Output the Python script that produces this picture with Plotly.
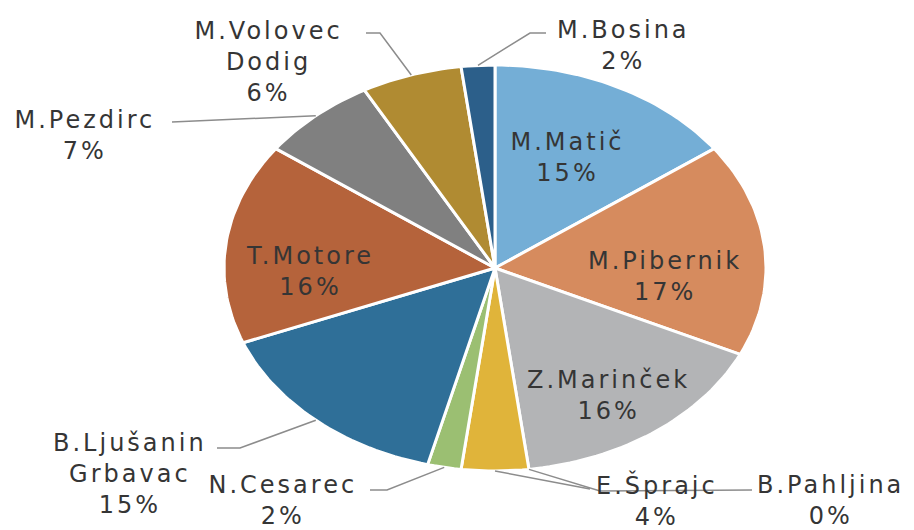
import numpy as np
import plotly.graph_objects as go

# ---- data ----
names = ["M.Matič", "M.Pibernik", "Z.Marinček", "B.Pahljina", "E.Šprajc",
         "N.Cesarec", "B.Ljušanin Grbavac", "T.Motore", "M.Pezdirc",
         "M.Volovec Dodig", "M.Bosina"]
values = [15, 17, 16, 0, 4, 2, 15, 16, 7, 6, 2]

# ---- styles / layout (not data) ----
colors = ["#74aed6", "#d68b5e", "#b3b4b6", "#c0c0c0", "#e0b43a",
          "#9bbf72", "#2f6f98", "#b5633b", "#808080", "#b08b32", "#2c5f8a"]
# pie geometry in pixel-unit axes (image is stretched horizontally)
CX, CY, RX, RY = 495, 268, 271, 203
# label block centres
label_pos = {
    "M.Matič": (567, 157), "M.Pibernik": (665, 276), "Z.Marinček": (608, 395),
    "B.Pahljina": (830, 500), "E.Šprajc": (657, 500), "N.Cesarec": (283, 500),
    "B.Ljušanin Grbavac": (130, 474), "T.Motore": (310, 271),
    "M.Pezdirc": (85, 135), "M.Volovec Dodig": (268, 62), "M.Bosina": (623, 45),
}
# leader line label-side points (elbow, end) for outside labels
leader = {
    "M.Volovec Dodig": [(380, 33), (366, 33)],
    "M.Bosina": [(530, 33), (546, 33)],
    "M.Pezdirc": [(172, 122)],
    "B.Ljušanin Grbavac": [(240, 448), (217, 448)],
    "N.Cesarec": [(387, 490), (370, 490)],
    "E.Šprajc": [(590, 489)],
    "B.Pahljina": [(600, 491), (752, 490)],
}
TEXT = "#353535"
FONT = "DejaVu Sans"
FS = 24
OFF = 8  # page body margin offset

total = float(sum(values))
fig = go.Figure()

def pt(angle_deg, r=1.0):
    a = np.radians(angle_deg)
    return CX + RX * r * np.cos(a), CY - RY * r * np.sin(a)

start = 90.0
mids = {}
for name, v, c in zip(names, values, colors):
    span = 360.0 * v / total
    end = start - span
    mids[name] = (start + end) / 2
    if v > 0:
        n = max(3, int(span / 1.5) + 2)
        ang = np.linspace(start, end, n)
        xs, ys = pt(ang)
        x = np.concatenate([[CX], xs, [CX]])
        y = np.concatenate([[CY], ys, [CY]])
        fig.add_trace(go.Scatter(x=x, y=y, fill="toself", fillcolor=c,
                                 mode="lines", line=dict(color="white", width=3),
                                 hoverinfo="text", text=name, showlegend=False))
    start = end

# leader lines
for name, pts in leader.items():
    ex, ey = pt(mids[name])
    xs = [ex] + [p[0] for p in pts]
    ys = [ey] + [p[1] for p in pts]
    fig.add_trace(go.Scatter(x=xs, y=ys, mode="lines",
                             line=dict(color="#8c8c8c", width=1.5),
                             hoverinfo="skip", showlegend=False))

# labels
for name, v in zip(names, values):
    pct = round(v / total * 100)
    label = name.replace(" ", "<br>") + "<br>" + f"{pct}%"
    x, y = label_pos[name]
    fig.add_annotation(x=x, y=y, xref="x", yref="y", text=label,
                       showarrow=False, align="center",
                       font=dict(family=FONT, size=FS, color=TEXT))

fig.update_xaxes(range=[OFF, 914 + OFF], visible=False, fixedrange=True)
fig.update_yaxes(range=[530 + OFF, OFF], visible=False, fixedrange=True)
fig.update_layout(width=914, height=530, margin=dict(l=0, r=0, t=0, b=0),
                  paper_bgcolor="white", plot_bgcolor="white",
                  showlegend=False)
fig.write_html(
    "out.html",
    post_script="document.querySelectorAll('.annotation-text').forEach(function(t){t.style.letterSpacing='3px';});",
)
